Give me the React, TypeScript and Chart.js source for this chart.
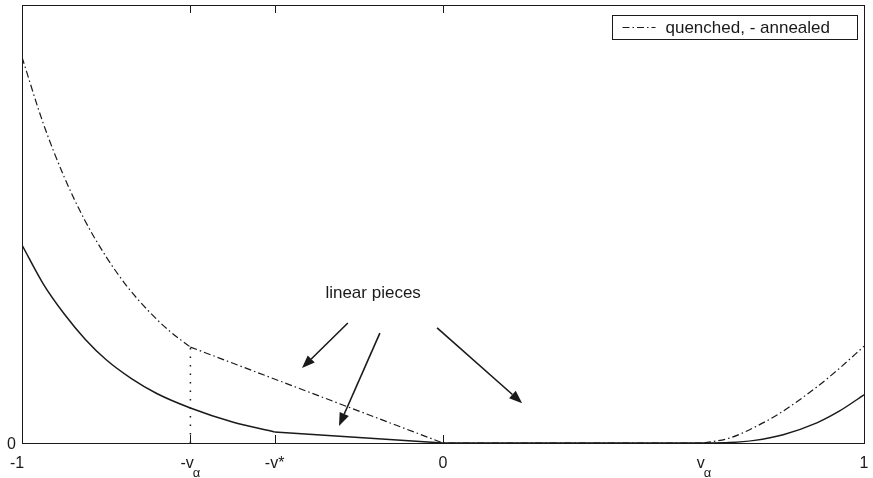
import React, { useEffect, useRef } from "react";
import { Chart, registerables } from "chart.js";

Chart.register(...registerables);

// ---- data ----
const quenchedCurveX = [-1, -0.95, -0.9, -0.85, -0.8, -0.75, -0.7, -0.65, -0.6];
const quenchedCurveY = [0.881, 0.731, 0.608, 0.507, 0.425, 0.357, 0.302, 0.256, 0.219];
const quenchedLinearX = [-0.6, 0, 0.62];
const quenchedLinearY = [0.219, 0, 0];
const quenchedRightX = [0.62, 0.68, 0.74, 0.8, 0.888, 0.94, 1.0];
const quenchedRightY = [0, 0.011, 0.036, 0.068, 0.128, 0.169, 0.221];

const annealedCurveX = [-1, -0.95, -0.9, -0.85, -0.8, -0.74, -0.68, -0.6, -0.5, -0.4];
const annealedCurveY = [0.452, 0.364, 0.295, 0.237, 0.19, 0.147, 0.113, 0.08, 0.048, 0.025];
const annealedLinearX = [-0.4, 0, 0.62];
const annealedLinearY = [0.025, 0, 0];
const annealedRightX = [0.62, 0.68, 0.74, 0.808, 0.888, 0.94, 1.0];
const annealedRightY = [0, 0.001, 0.006, 0.019, 0.046, 0.072, 0.11];

const dottedX = [-0.6, -0.6];
const dottedY = [0, 0.219];

const tickValues = [-1, -0.6, -0.4, 0, 0.62, 1];
const tickMain = ["-1", "-v", "-v*", "0", "v", "1"];
const tickSub = ["", "α", "", "", "α", ""];
const innerTickValues = [-0.6, -0.4, 0];
const yTickValues = [0];
const yTickLabels = ["0"];

const arrowStartX = [-0.226, -0.15, -0.014];
const arrowStartY = [0.274, 0.251, 0.263];
const arrowEndX = [-0.335, -0.247, 0.188];
const arrowEndY = [0.171, 0.039, 0.091];
const annotationText = "linear pieces";
const annotationX = -0.166;
const annotationY = 0.342;
const legendLabel = "quenched, - annealed";

const FONT = "'Liberation Sans', Arial, Helvetica, sans-serif";
const INK = "#1a1a1a";
const DASHDOT = [7, 3, 1.5, 3];

const pts = (xs: number[], ys: number[]) => xs.map((x, i) => ({ x, y: ys[i] }));

const decorPlugin = {
  id: "decor",
  afterDraw(chart: any) {
    const { ctx, chartArea: a, scales } = chart;
    const xs = scales.x;
    const ys = scales.y;
    ctx.save();
    // frame
    ctx.strokeStyle = INK;
    ctx.lineWidth = 1;
    ctx.setLineDash([]);
    ctx.strokeRect(Math.round(a.left) + 0.5, Math.round(a.top) + 0.5, Math.round(a.right - a.left), Math.round(a.bottom - a.top));
    // inward ticks top & bottom
    innerTickValues.forEach((v) => {
      const px = Math.round(xs.getPixelForValue(v)) + 0.5;
      ctx.beginPath();
      ctx.moveTo(px, a.bottom);
      ctx.lineTo(px, a.bottom - 8);
      ctx.moveTo(px, a.top);
      ctx.lineTo(px, a.top + 8);
      ctx.stroke();
    });
    // x tick labels
    ctx.fillStyle = INK;
    ctx.textBaseline = "alphabetic";
    tickValues.forEach((v, i) => {
      const px = xs.getPixelForValue(v);
      ctx.font = `16px ${FONT}`;
      const wMain = ctx.measureText(tickMain[i]).width;
      let wSub = 0;
      if (tickSub[i]) {
        ctx.font = `13px ${FONT}`;
        wSub = ctx.measureText(tickSub[i]).width - 1;
      }
      let left = px - (wMain + wSub) / 2;
      if (i === 0) left = px - wMain / 2 - 5;
      const base = a.bottom + 25;
      ctx.font = `16px ${FONT}`;
      ctx.textAlign = "left";
      ctx.fillText(tickMain[i], left, base);
      if (tickSub[i]) {
        ctx.font = `13px ${FONT}`;
        ctx.fillText(tickSub[i], left + wMain - 1, base + 9);
      }
    });
    // y tick labels
    ctx.font = `16px ${FONT}`;
    ctx.textAlign = "right";
    ctx.textBaseline = "middle";
    yTickValues.forEach((v, i) => {
      ctx.fillText(yTickLabels[i], a.left - 6, ys.getPixelForValue(v) + 2);
    });
    // annotation text
    ctx.font = `17px ${FONT}`;
    ctx.textAlign = "center";
    ctx.textBaseline = "middle";
    ctx.fillText(annotationText, xs.getPixelForValue(annotationX), ys.getPixelForValue(annotationY));
    // arrows
    ctx.lineWidth = 1.6;
    arrowStartX.forEach((sx, i) => {
      const x0 = xs.getPixelForValue(sx);
      const y0 = ys.getPixelForValue(arrowStartY[i]);
      const x1 = xs.getPixelForValue(arrowEndX[i]);
      const y1 = ys.getPixelForValue(arrowEndY[i]);
      const ang = Math.atan2(y1 - y0, x1 - x0);
      const hl = 13;
      const hw = 5;
      const bx = x1 - hl * Math.cos(ang);
      const by = y1 - hl * Math.sin(ang);
      ctx.beginPath();
      ctx.moveTo(x0, y0);
      ctx.lineTo(bx, by);
      ctx.stroke();
      ctx.beginPath();
      ctx.moveTo(x1, y1);
      ctx.lineTo(bx + hw * Math.sin(ang), by - hw * Math.cos(ang));
      ctx.lineTo(bx - hw * Math.sin(ang), by + hw * Math.cos(ang));
      ctx.closePath();
      ctx.fill();
    });
    // legend
    const bw = 245;
    const bh = 24;
    const bx = Math.round(a.right - 7 - bw) + 0.5;
    const by = Math.round(a.top + 10) + 0.5;
    ctx.fillStyle = "#fff";
    ctx.fillRect(bx, by, bw, bh);
    ctx.lineWidth = 1;
    ctx.strokeStyle = INK;
    ctx.strokeRect(bx, by, bw, bh);
    ctx.beginPath();
    ctx.setLineDash(DASHDOT);
    ctx.moveTo(bx + 10, by + bh / 2);
    ctx.lineTo(bx + 43, by + bh / 2);
    ctx.stroke();
    ctx.setLineDash([]);
    ctx.fillStyle = INK;
    ctx.font = `17px ${FONT}`;
    ctx.textAlign = "left";
    ctx.textBaseline = "middle";
    ctx.fillText(legendLabel, bx + 53, by + bh / 2 + 1);
    ctx.restore();
  },
};

export default function App() {
  const ref = useRef<HTMLCanvasElement | null>(null);
  useEffect(() => {
    if (!ref.current) return;
    const common = { pointRadius: 0, borderColor: INK, fill: false };
    const chart = new Chart(ref.current, {
      type: "line",
      data: {
        datasets: [
          { ...common, label: "quenched", data: pts(quenchedCurveX, quenchedCurveY), borderWidth: 1.2, borderDash: DASHDOT, cubicInterpolationMode: "monotone" },
          { ...common, label: "quenched linear", data: pts(quenchedLinearX, quenchedLinearY), borderWidth: 1.2, borderDash: DASHDOT, tension: 0 },
          { ...common, label: "quenched right", data: pts(quenchedRightX, quenchedRightY), borderWidth: 1.2, borderDash: DASHDOT, cubicInterpolationMode: "monotone" },
          { ...common, label: "annealed", data: pts(annealedCurveX, annealedCurveY), borderWidth: 1.5, cubicInterpolationMode: "monotone" },
          { ...common, label: "annealed linear", data: pts(annealedLinearX, annealedLinearY), borderWidth: 1.5, tension: 0 },
          { ...common, label: "annealed right", data: pts(annealedRightX, annealedRightY), borderWidth: 1.5, cubicInterpolationMode: "monotone" },
          { ...common, label: "v alpha", data: pts(dottedX, dottedY), borderWidth: 1.5, borderDash: [1.5, 7], tension: 0 },
        ] as any,
      },
      options: {
        animation: false,
        responsive: false,
        maintainAspectRatio: false,
        layout: { padding: { left: 22, right: 9, top: 5, bottom: 35 } },
        plugins: { legend: { display: false }, tooltip: { enabled: false } },
        scales: {
          x: { type: "linear", min: -1, max: 1, display: false },
          y: { type: "linear", min: 0, max: 1, display: false },
        },
      },
      plugins: [decorPlugin],
    });
    return () => chart.destroy();
  }, []);
  return (
    <div style={{ position: "fixed", left: 0, top: 0, width: 873, height: 478, background: "#fff" }}>
      <canvas ref={ref} width={873} height={478} style={{ width: 873, height: 478, display: "block" }} />
    </div>
  );
}
